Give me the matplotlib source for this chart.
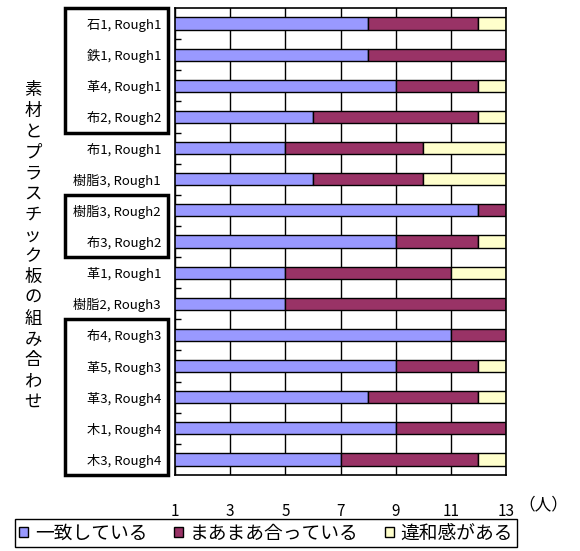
import matplotlib
matplotlib.use("Agg")
import matplotlib.pyplot as plt
import matplotlib.transforms as mtransforms
from matplotlib.patches import Rectangle, Patch

plt.rcParams['font.family'] = ['Noto Sans CJK JP', 'DejaVu Sans']

# 組み合わせごとの回答人数
labels = ["石1, Rough1", "鉄1, Rough1", "革4, Rough1", "布2, Rough2",
          "布1, Rough1", "樹脂3, Rough1", "樹脂3, Rough2", "布3, Rough2",
          "革1, Rough1", "樹脂2, Rough3", "布4, Rough3", "革5, Rough3",
          "革3, Rough4", "木1, Rough4", "木3, Rough4"]
match = [8, 8, 9, 6, 5, 6, 12, 9, 5, 5, 11, 9, 8, 9, 7]
fair = [4, 5, 3, 6, 5, 4, 1, 3, 6, 8, 2, 3, 4, 4, 5]
odd = [1, 0, 1, 1, 3, 3, 0, 1, 2, 0, 0, 1, 1, 0, 1]
series_names = ["一致している", "まあまあ合っている", "違和感がある"]
colors = ["#9999FF", "#993366", "#FFFFCC"]
xticks = [1, 3, 5, 7, 9, 11, 13]
# 枠で囲むグループ (先頭行, 行数)
groups = [(0, 4), (6, 2), (10, 5)]

fig = plt.figure(figsize=(5.8, 5.51), dpi=100)
ax = fig.add_axes([175 / 580, 1 - 475 / 551, 331 / 580, 467 / 551])

y = list(range(len(labels)))
left2 = [a + b for a, b in zip(match, fair)]
ax.barh(y, match, height=0.39, color=colors[0], edgecolor="black", linewidth=1)
ax.barh(y, fair, left=match, height=0.39, color=colors[1], edgecolor="black", linewidth=1)
ax.barh(y, odd, left=left2, height=0.39, color=colors[2], edgecolor="black", linewidth=1)

ax.set_xlim(1, 13)
ax.set_ylim(len(labels) - 0.5, -0.5)
ax.set_xticks(xticks)
ax.set_xticklabels([str(v) for v in xticks], fontsize=11)
ax.tick_params(axis='x', length=0, pad=20)
ax.xaxis.grid(True, color="black", linewidth=1)
ax.set_axisbelow(True)

ax.set_yticks(y)
ax.set_yticklabels(labels, fontsize=9.5)
ax.tick_params(axis='y', length=0, pad=10)
ax.set_yticks([i + 0.5 for i in range(len(labels) - 1)], minor=True)
ax.tick_params(axis='y', which='minor', direction='in', length=4, width=1)
for s in ax.spines.values():
    s.set_linewidth(1.2)

# グループの太枠
trans = mtransforms.blended_transform_factory(fig.transFigure, ax.transData)
for start, n in groups:
    rect = Rectangle((65 / 580, start - 0.5 + n), 103 / 580, -n, transform=trans,
                     fill=False, edgecolor="black", linewidth=2.5, clip_on=False)
    fig.add_artist(rect)

fig.text(33 / 580, 1 - 246 / 551, "\n".join("素材とプラスチック板の組み合わせ"),
         ha="center", va="center", fontsize=12.5, linespacing=1.2)
fig.text(543 / 580, 1 - 505 / 551, "（人）", ha="center", va="center", fontsize=12)

handles = [Patch(facecolor=c, edgecolor="black", linewidth=1) for c in colors]
leg = fig.legend(handles, series_names, ncol=3, loc="center",
                 bbox_to_anchor=(266 / 580, 1 - 533 / 551), fontsize=13.5,
                 fancybox=False, edgecolor="black", framealpha=1,
                 handlelength=0.5, handleheight=0.5, handletextpad=0.35,
                 columnspacing=1.4, borderpad=0.2, borderaxespad=0)
leg.get_frame().set_linewidth(1)

fig.savefig("out.png", dpi=100)
